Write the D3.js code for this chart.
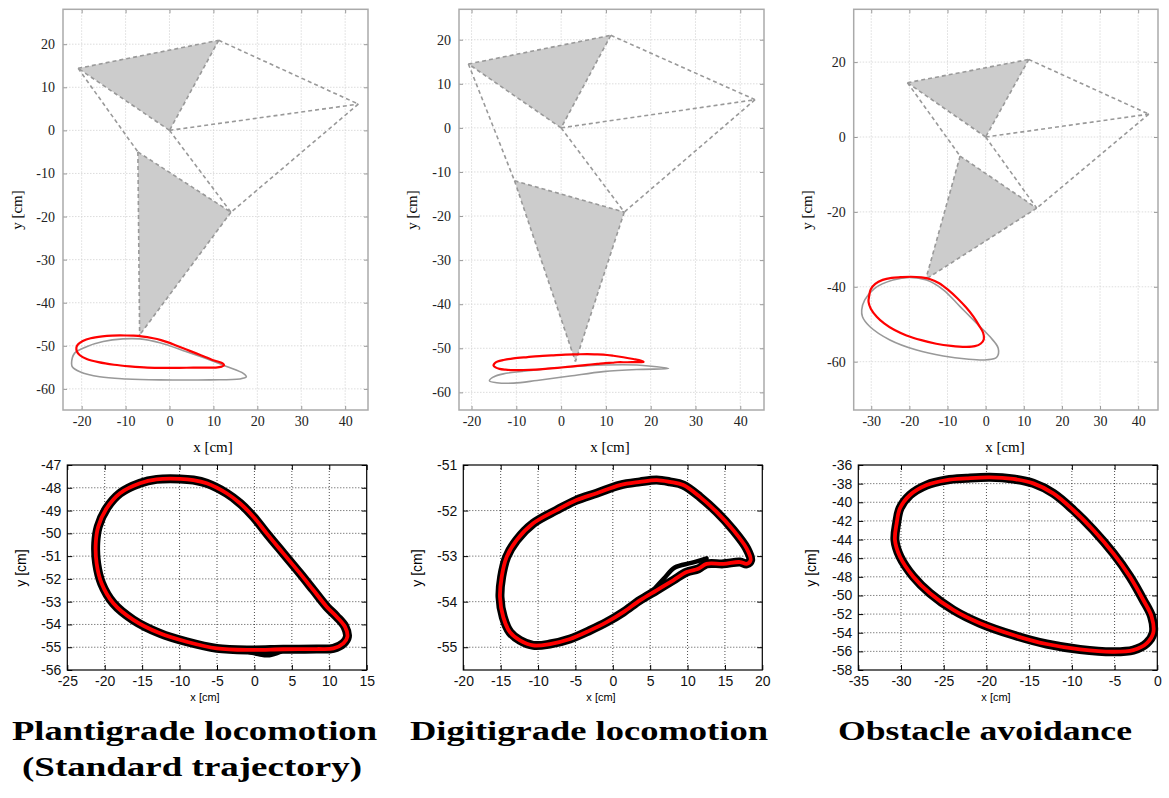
<!DOCTYPE html>
<html><head><meta charset="utf-8">
<script src="https://cdn.jsdelivr.net/npm/d3@7"></script>
<style>body{margin:0;background:#fff}svg{display:block}</style>
</head><body><svg id="c" width="1169" height="798"></svg>
<script>
// ---------------- data ----------------
const panelTitles = ["Plantigrade locomotion", "Digitigrade locomotion", "Obstacle avoidance"];
const subTitle = "(Standard trajectory)";
const xLabel = "x [cm]", yLabel = "y [cm]";

// joints: 0 hip-top-left, 1 hip-top, 2 origin, 3 far right, 4 knee, 5 knee-right, 6 foot
const jointLinks = [[0,1],[1,2],[2,0],[1,3],[2,3],[0,4],[2,5],[3,5],[4,5],[4,6],[5,6]];
const segmentTriangles = [[0,1,2],[4,5,6]];

const plantJointX = [-20.8, 11.2, 0, 43.0, -7.2, 14.0, -6.8];
const plantJointY = [14.4, 20.9, 0, 6.1, -5.0, -19.0, -47.5];
const digitJointX = [-20.7, 11.1, 0, 43.3, -10.4, 14.1, 3.2];
const digitJointY = [14.5, 21.0, 0, 6.4, -12.0, -19.1, -53.0];
const obstJointX  = [-20.5, 11.3, 0, 42.8, -6.7, 13.4, -15.7];
const obstJointY  = [14.5, 20.7, 0, 6.1, -5.1, -19.0, -38.0];

// gray reference loops (top row)
const plantRefX = [-22.3,-21.6,-18.9,-15.1,-10.6,-6.8,-2.2,3.9,9.2,13.0,16.8,17.5,16.0,9.2,-2.2,-9.8,-15.9,-20.4,-22.1];
const plantRefY = [-54.1,-51.7,-50.2,-49.0,-48.4,-48.4,-49.3,-51.4,-53.3,-54.8,-56.4,-57.2,-57.7,-57.9,-57.9,-57.7,-57.2,-56.0,-54.9];
const digitRefX = [-16.0,-15.1,-12.9,-5.4,2.0,9.4,16.9,24.0,16.9,9.4,2.0,-5.4,-10.6,-14.4];
const digitRefY = [-57.4,-56.5,-55.8,-54.9,-54.2,-53.8,-53.8,-54.6,-54.8,-55.3,-56.3,-57.3,-57.9,-57.8];
const obstRefX = [-32.5,-31.7,-29.1,-24.3,-19.9,-15.5,-11.1,-6.7,-2.4,1.1,3.3,2.9,0.3,-5.0,-11.1,-18.1,-25.1,-30.4,-32.3];
const obstRefY = [-46.2,-43.5,-40.4,-38.2,-37.5,-38.2,-40.8,-45.3,-49.7,-53.3,-56.4,-58.8,-59.5,-59.3,-58.5,-56.9,-54.2,-50.6,-48.0];

// red foot trajectories (both rows)
const plantFootX = [-9.94,-13.06,-15.29,-17.96,-19.74,-20.86,-21.2,-21.08,-20.41,-18.85,-16.18,-12.62,-9.05,-5.04,-0.59,3.86,8.32,10.55,11.88,12.42,12.1,10.99,9.65,7.87,6.09,3.86,1.64,-0.14,-1.93,-3.71,-6.38,-8.16];
const plantFootY = [-47.61,-47.63,-47.8,-48.24,-48.9,-49.7,-50.44,-51.32,-52.2,-53.07,-53.8,-54.39,-54.76,-55.05,-55.12,-55.09,-55.08,-55.05,-54.83,-54.54,-54.1,-53.66,-53.22,-52.49,-51.76,-50.88,-50.0,-49.27,-48.68,-48.24,-47.8,-47.66];
const digitFootX = [-15.09,-14.87,-14.2,-12.87,-10.64,-7.51,-4.84,-2.16,0.96,3.63,5.86,7.65,9.43,11.66,13.89,16.12,17.9,18.44,17.9,17.01,14.78,12.55,11.44,9.88,8.09,5.86,3.63,1.4,-0.82,-3.05,-5.73,-8.41,-10.64,-12.42,-13.76,-14.65];
const digitFootY = [-53.9,-53.46,-53.02,-52.65,-52.28,-51.99,-51.77,-51.62,-51.44,-51.37,-51.33,-51.37,-51.44,-51.7,-52.03,-52.43,-52.83,-53.09,-53.17,-53.13,-53.17,-53.17,-53.28,-53.35,-53.53,-53.75,-53.97,-54.23,-54.45,-54.63,-54.82,-54.93,-54.96,-54.85,-54.67,-54.34];
const obstFootX = [-22.32,-24.66,-27.0,-28.95,-30.12,-30.51,-30.71,-30.12,-28.56,-26.61,-23.88,-20.76,-16.86,-12.96,-9.05,-5.15,-2.81,-1.25,-0.47,-0.66,-1.64,-3.2,-5.15,-7.49,-9.83,-12.18,-14.52,-16.86,-19.6];
const obstFootY = [-37.43,-37.61,-38.15,-39.22,-40.65,-42.26,-44.05,-45.84,-47.99,-49.77,-51.56,-52.99,-54.25,-55.21,-55.79,-56.04,-55.86,-55.14,-54.0,-52.28,-50.49,-47.99,-45.48,-42.98,-40.83,-39.04,-37.97,-37.5,-37.32];

// stray measured strokes (black) in bottom row
const plantStrayX = [-1.5, 0.5, 2.0, 3.5];
const plantStrayY = [-55.15, -55.3, -55.35, -55.2];
const digitStrayX = [12.55, 10.5, 8.3, 6.8, 5.4];
const digitStrayY = [-53.05, -53.15, -53.25, -53.5, -53.75];

// tick values
const topXTicks12 = [-20,-10,0,10,20,30,40];
const topXTicks3  = [-30,-20,-10,0,10,20,30,40];
const topYTicks12 = [-60,-50,-40,-30,-20,-10,0,10,20];
const topYTicks3  = [-60,-40,-20,0,20];
const botXTicks1 = [-25,-20,-15,-10,-5,0,5,10,15];
const botYTicks1 = [-56,-55,-54,-53,-52,-51,-50,-49,-48,-47];
const botXTicks2 = [-20,-15,-10,-5,0,5,10,15,20];
const botYTicks2 = [-55,-54,-53,-52,-51];
const botXTicks3 = [-35,-30,-25,-20,-15,-10,-5,0];
const botYTicks3 = [-58,-56,-54,-52,-50,-48,-46,-44,-42,-40,-38,-36];

// ---------------- drawing ----------------
const svg = d3.select("#c");
const zip = (xs, ys) => xs.map((x, i) => [x, ys[i]]);
const fmt = d => String(d);
const serif = "'Liberation Serif','Times New Roman',serif";
const sans = "'Liberation Sans',Arial,Helvetica,sans-serif";

function topPanel(o) {
  const x = d3.scaleLinear().domain(o.xd).range(o.xr);
  const y = d3.scaleLinear().domain(o.yd).range([410, 9.3]);
  const g = svg.append("g");
  const [x0, x1] = o.xr, y0 = 9.3, y1 = 410;
  g.selectAll(".gx").data(o.xt).join("line").attr("x1", d => x(d)).attr("x2", d => x(d))
    .attr("y1", y0).attr("y2", y1).attr("stroke", "#d4d4d4").attr("stroke-width", 0.8).attr("stroke-dasharray", "1.5,1.5");
  g.selectAll(".gy").data(o.yt).join("line").attr("y1", d => y(d)).attr("y2", d => y(d))
    .attr("x1", x0).attr("x2", x1).attr("stroke", "#d4d4d4").attr("stroke-width", 0.8).attr("stroke-dasharray", "1.5,1.5");
  const ax = [
    [d3.axisBottom(x).tickValues(o.xt).tickSize(-4).tickPadding(6).tickFormat(fmt), `translate(0,${y1})`],
    [d3.axisTop(x).tickValues(o.xt).tickSize(-4).tickFormat(""), `translate(0,${y0})`],
    [d3.axisLeft(y).tickValues(o.yt).tickSize(-4).tickPadding(8).tickFormat(fmt), `translate(${x0},0)`],
    [d3.axisRight(y).tickValues(o.yt).tickSize(-4).tickFormat(""), `translate(${x1},0)`]
  ];
  ax.forEach(([a, t]) => {
    const s = g.append("g").attr("transform", t).call(a);
    s.select(".domain").remove();
    s.selectAll("line").attr("stroke", "#999").attr("stroke-width", 1);
    s.selectAll("text").attr("font-family", serif).attr("font-size", 14).attr("fill", "#222");
  });
  g.append("rect").attr("x", x0).attr("y", y0).attr("width", x1 - x0).attr("height", y1 - y0)
    .attr("fill", "none").attr("stroke", "#aaa").attr("stroke-width", 1.5);
  const J = zip(o.jx, o.jy);
  g.selectAll(".tri").data(segmentTriangles).join("polygon")
    .attr("points", t => t.map(i => [x(J[i][0]), y(J[i][1])].join(",")).join(" "))
    .attr("fill", "#cccccc").attr("stroke", "none");
  g.selectAll(".lnk").data(jointLinks).join("line")
    .attr("x1", l => x(J[l[0]][0])).attr("y1", l => y(J[l[0]][1]))
    .attr("x2", l => x(J[l[1]][0])).attr("y2", l => y(J[l[1]][1]))
    .attr("stroke", "#999").attr("stroke-width", 1.6).attr("stroke-dasharray", "4,3");
  const line = d3.line().x(d => x(d[0])).y(d => y(d[1])).curve(d3.curveCatmullRomClosed.alpha(0.5));
  g.append("path").attr("d", line(zip(o.rx, o.ry))).attr("fill", "none").attr("stroke", "#999").attr("stroke-width", 1.6);
  g.append("path").attr("d", line(zip(o.fx, o.fy))).attr("fill", "none").attr("stroke", "#f00").attr("stroke-width", 2.2);
  g.append("text").attr("x", o.xlx).attr("y", 452).attr("text-anchor", "middle")
    .attr("font-family", serif).attr("font-size", 15).text(xLabel);
  g.append("text").attr("transform", `translate(${o.ylx},210) rotate(-90)`).attr("text-anchor", "middle")
    .attr("font-family", serif).attr("font-size", 15).text(yLabel);
}

function botPanel(o) {
  const x = d3.scaleLinear().domain(o.xd).range(o.xr);
  const y = d3.scaleLinear().domain(o.yd).range([670, 465]);
  const g = svg.append("g");
  const [x0, x1] = o.xr, y0 = 465, y1 = 670;
  const inner = o.xt.slice(1, -1), innerY = o.yt.filter(v => v > o.yd[0] && v < o.yd[1]);
  g.selectAll(".gx").data(inner).join("line").attr("x1", d => x(d)).attr("x2", d => x(d))
    .attr("y1", y0).attr("y2", y1).attr("stroke", "#222").attr("stroke-width", 0.8).attr("stroke-dasharray", "1,2");
  g.selectAll(".gy").data(innerY).join("line").attr("y1", d => y(d)).attr("y2", d => y(d))
    .attr("x1", x0).attr("x2", x1).attr("stroke", "#222").attr("stroke-width", 0.8).attr("stroke-dasharray", "1,2");
  const ax = [
    [d3.axisBottom(x).tickValues(o.xt).tickSize(-5).tickPadding(6).tickFormat(fmt), `translate(0,${y1})`],
    [d3.axisTop(x).tickValues(o.xt).tickSize(-5).tickFormat(""), `translate(0,${y0})`],
    [d3.axisLeft(y).tickValues(o.yt).tickSize(-5).tickPadding(6).tickFormat(fmt), `translate(${x0},0)`],
    [d3.axisRight(y).tickValues(o.yt).tickSize(-5).tickFormat(""), `translate(${x1},0)`]
  ];
  ax.forEach(([a, t]) => {
    const s = g.append("g").attr("transform", t).call(a);
    s.select(".domain").remove();
    s.selectAll("line").attr("stroke", "#000").attr("stroke-width", 1);
    s.selectAll("text").attr("font-family", sans).attr("font-size", 14).attr("fill", "#111");
  });
  g.append("rect").attr("x", x0).attr("y", y0).attr("width", x1 - x0).attr("height", y1 - y0)
    .attr("fill", "none").attr("stroke", "#000").attr("stroke-width", 1.2);
  const line = d3.line().x(d => x(d[0])).y(d => y(d[1])).curve(d3.curveCatmullRomClosed.alpha(0.5));
  const open = d3.line().x(d => x(d[0])).y(d => y(d[1])).curve(d3.curveCatmullRom.alpha(0.5));
  if (o.sx) g.append("path").attr("d", open(zip(o.sx, o.sy))).attr("fill", "none").attr("stroke", "#000").attr("stroke-width", 4.5).attr("stroke-linecap", "round");
  g.append("path").attr("d", line(zip(o.fx, o.fy))).attr("fill", "none").attr("stroke", "#000").attr("stroke-width", 9).attr("stroke-linejoin", "round");
  g.append("path").attr("d", line(zip(o.fx, o.fy))).attr("fill", "none").attr("stroke", "#f00").attr("stroke-width", 3.8);
  g.append("text").attr("x", o.xlx).attr("y", 701).attr("text-anchor", "middle")
    .attr("font-family", sans).attr("font-size", 11).text(xLabel);
  g.append("text").attr("transform", `translate(${o.ylx},568) rotate(-90)`).attr("text-anchor", "middle")
    .attr("font-family", sans).attr("font-size", 14).text(yLabel);
}

topPanel({xd: [-24.25, 45.2], xr: [63, 368], yd: [-64.9, 28.1], xt: topXTicks12, yt: topYTicks12,
  jx: plantJointX, jy: plantJointY, rx: plantRefX, ry: plantRefY, fx: plantFootX, fy: plantFootY, xlx: 213, ylx: 22});
topPanel({xd: [-22.8, 45.3], xr: [459, 764], yd: [-64.0, 26.9], xt: topXTicks12, yt: topYTicks12,
  jx: digitJointX, jy: digitJointY, rx: digitRefX, ry: digitRefY, fx: digitFootX, fy: digitFootY, xlx: 610, ylx: 417});
topPanel({xd: [-34.6, 45.2], xr: [853.7, 1158], yd: [-72.9, 34.1], xt: topXTicks3, yt: topYTicks3,
  jx: obstJointX, jy: obstJointY, rx: obstRefX, ry: obstRefY, fx: obstFootX, fy: obstFootY, xlx: 1005, ylx: 812});

botPanel({xd: [-25, 15], xr: [67.3, 366.7], yd: [-56, -47], xt: botXTicks1, yt: botYTicks1,
  fx: plantFootX, fy: plantFootY, sx: plantStrayX, sy: plantStrayY, xlx: 205, ylx: 26});
botPanel({xd: [-20, 20], xr: [463.3, 762.3], yd: [-55.5, -51], xt: botXTicks2, yt: botYTicks2,
  fx: digitFootX, fy: digitFootY, sx: digitStrayX, sy: digitStrayY, xlx: 601, ylx: 422});
botPanel({xd: [-35, 0], xr: [858.3, 1157.3], yd: [-58, -36], xt: botXTicks3, yt: botYTicks3,
  fx: obstFootX, fy: obstFootY, xlx: 996, ylx: 816});

// titles
const titleFont = "'Liberation Serif','Times New Roman',serif";
const titlePos = [[194.5, 365], [589, 358], [985, 294]];
panelTitles.forEach((t, i) => {
  svg.append("text").attr("x", titlePos[i][0]).attr("y", 740).attr("text-anchor", "middle")
    .attr("font-family", titleFont).attr("font-weight", "bold").attr("font-size", 28)
    .attr("textLength", titlePos[i][1]).attr("lengthAdjust", "spacingAndGlyphs").text(t);
});
svg.append("text").attr("x", 192).attr("y", 776).attr("text-anchor", "middle")
  .attr("font-family", titleFont).attr("font-weight", "bold").attr("font-size", 28)
  .attr("textLength", 340).attr("lengthAdjust", "spacingAndGlyphs").text(subTitle);
</script></body></html>
